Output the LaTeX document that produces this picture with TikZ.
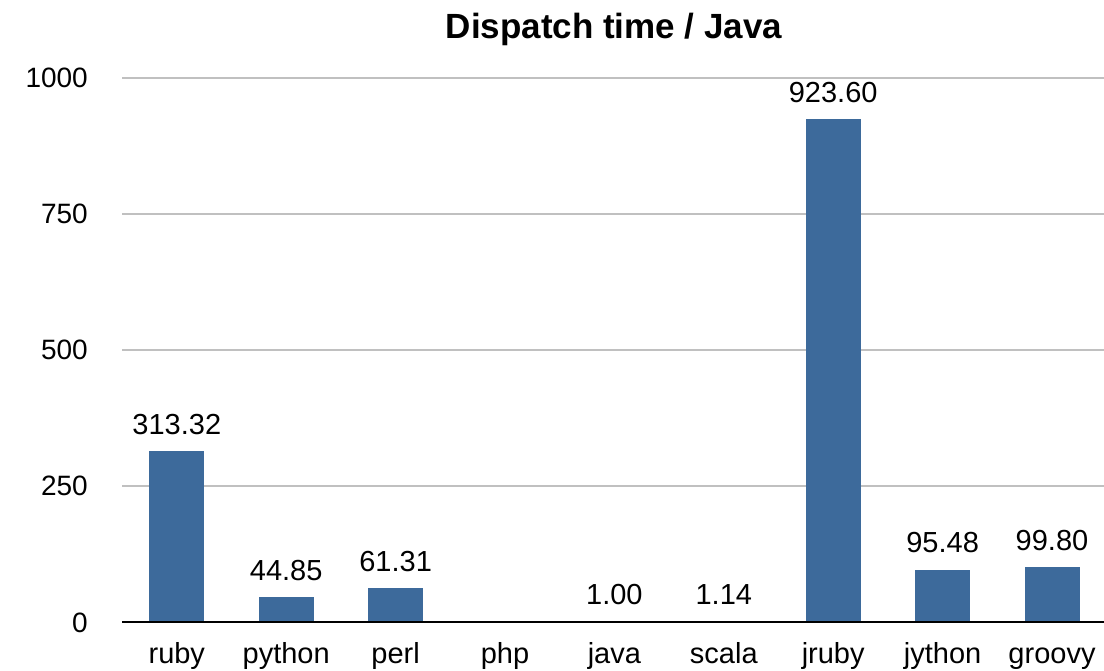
\documentclass[tikz,border=0pt]{standalone}
\usepackage{fontspec}
\setmainfont{Liberation Sans}
\definecolor{barblue}{RGB}{61,106,155}
\definecolor{gridgray}{RGB}{192,192,192}
\begin{document}
\begin{tikzpicture}[x=1pt,y=-1pt,
  lbl/.style={font=\fontsize{29}{31}\selectfont, anchor=base, inner sep=0pt},
  ticklbl/.style={font=\fontsize{28}{30}\selectfont, anchor=base east, inner sep=0pt},
  ttl/.style={font=\fontsize{35}{38}\selectfont\bfseries, anchor=base, inner sep=0pt},
  gridline/.style={draw=gridgray, line width=2pt},
  axisline/.style={draw=black, line width=2pt},
  bar/.style={fill=barblue}]
\useasboundingbox (0,0) rectangle (1104,671);
\fill[white] (0,0) rectangle (1104,671);

% title
\node[ttl] (title) at (614,39) {Dispatch time / Java};

% horizontal grid and tick labels
\foreach \v/\t in {250/250,500/500,750/750,1000/1000}{
  \pgfmathsetmacro\yy{621.7-0.5439*\v}
  \coordinate (g\v a) at (122,\yy);
  \coordinate (g\v b) at (1104,\yy);
  \draw[gridline] (g\v a) -- (g\v b);
  \node[ticklbl] (tick\v) at (88,\yy+10) {\t};
}
\node[ticklbl] (tick0) at (88,632) {0};

% bars with value labels
\foreach \i/\name/\v in {0/ruby/313.32,1/python/44.85,2/perl/61.31,4/java/1.00,5/scala/1.14,6/jruby/923.60,7/jython/95.48,8/groovy/99.80}{
  \pgfmathsetmacro\xl{149.3+109.4*\i}
  \pgfmathsetmacro\xc{\xl+27.5}
  \pgfmathsetmacro\yt{621.7-0.5439*\v}
  \fill[bar] (\xl,621.7) rectangle (\xl+55,\yt);
  \node[lbl] (val\name) at (\xc,\yt-17) {\v};
}

% category labels
\foreach \i/\name in {0/ruby,1/python,2/perl,3/php,4/java,5/scala,6/jruby,7/jython,8/groovy}{
  \pgfmathsetmacro\xc{149.3+109.4*\i+27.5}
  \node[lbl] (cat\name) at (\xc,663) {\name};
}

% baseline axis
\coordinate (axa) at (122,621.7);
\coordinate (axb) at (1104,621.7);
\draw[axisline] (axa) -- (axb);
\end{tikzpicture}
\end{document}
